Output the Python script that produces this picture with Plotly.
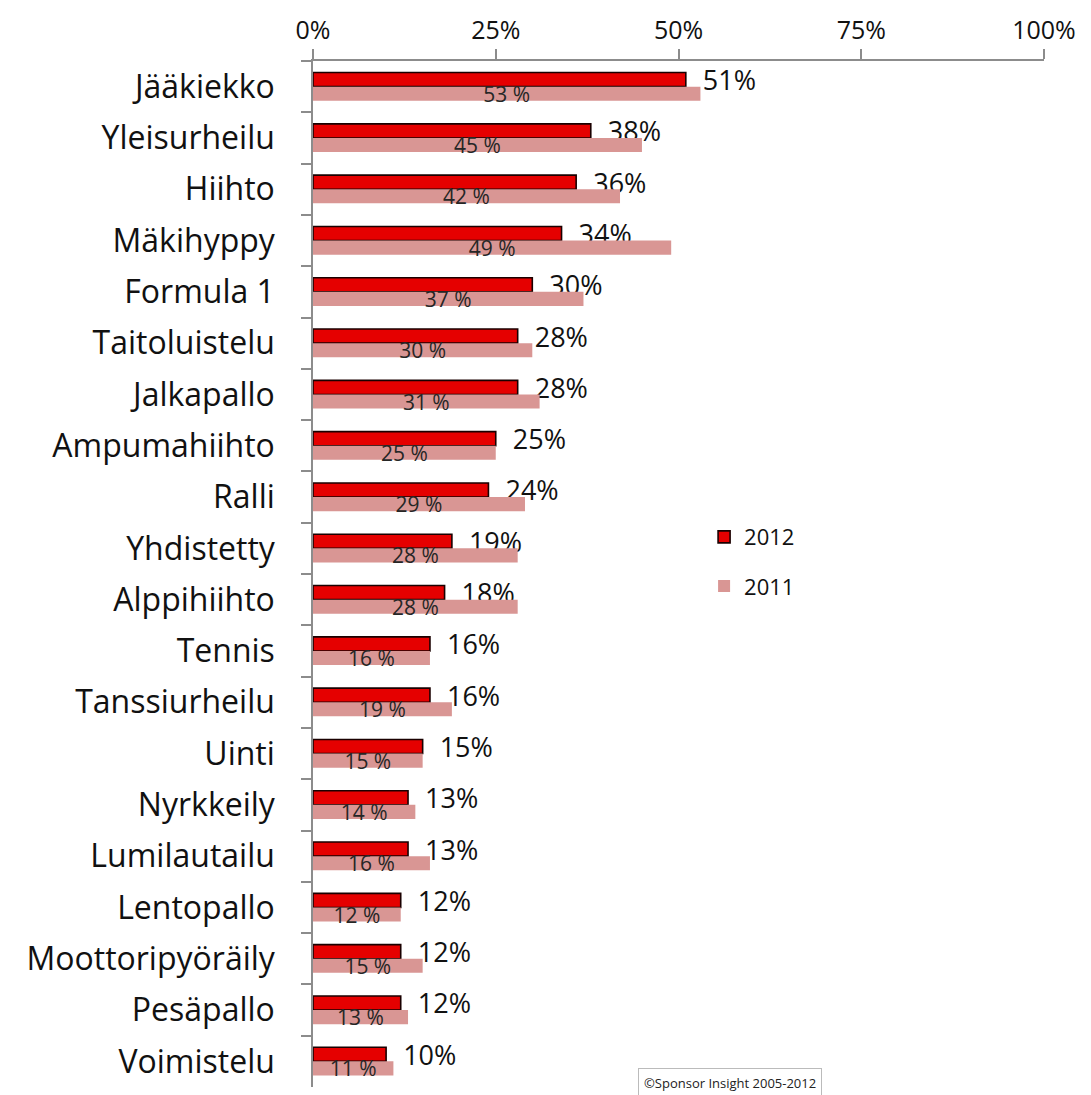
import plotly.graph_objects as go

categories = ["Jääkiekko", "Yleisurheilu", "Hiihto", "Mäkihyppy", "Formula 1", "Taitoluistelu",
              "Jalkapallo", "Ampumahiihto", "Ralli", "Yhdistetty", "Alppihiihto", "Tennis",
              "Tanssiurheilu", "Uinti", "Nyrkkeily", "Lumilautailu", "Lentopallo",
              "Moottoripyöräily", "Pesäpallo", "Voimistelu"]
values_2012 = [51, 38, 36, 34, 30, 28, 28, 25, 24, 19, 18, 16, 16, 15, 13, 13, 12, 12, 12, 10]
values_2011 = [53, 45, 42, 49, 37, 30, 31, 25, 29, 28, 28, 16, 19, 15, 14, 16, 12, 15, 13, 11]
x_ticks = [0, 25, 50, 75, 100]
x_tick_labels = ["0%", "25%", "50%", "75%", "100%"]

FONT = "Open Sans"

fig = go.Figure()
fig.add_trace(go.Bar(
    y=categories, x=values_2012, orientation="h", name="2012",
    marker=dict(color="#E50000", line=dict(color="#1A0000", width=1.6)),
    text=[f"  {v}%" for v in values_2012], textposition="outside",
    textfont=dict(family=FONT, size=27, color="#111111"),
    constraintext="none", cliponaxis=False, textangle=0,
    legend="legend",
))
fig.add_trace(go.Bar(
    y=categories, x=values_2011, orientation="h", name="2011",
    marker=dict(color="#D99694", line=dict(width=0)),
    text=[f"{v} %" for v in values_2011], textposition="inside",
    insidetextanchor="middle",
    textfont=dict(family=FONT, size=21, color="#262626"),
    constraintext="none", textangle=0,
    legend="legend2",
))

fig.update_layout(
    width=1091, height=1095,
    margin=dict(l=313, r=47, t=61, b=8),
    paper_bgcolor="white", plot_bgcolor="white",
    barmode="group", bargap=0.45, bargroupgap=0,
    font=dict(family=FONT, color="#111111"),
    showlegend=True,
    legend=dict(x=0.535, y=0.536, xanchor="left", yanchor="middle",
                font=dict(family=FONT, size=22, color="#111111"),
                bgcolor="rgba(0,0,0,0)"),
    legend2=dict(x=0.535, y=0.488, xanchor="left", yanchor="middle",
                 font=dict(family=FONT, size=22, color="#111111"),
                 bgcolor="rgba(0,0,0,0)"),
    xaxis=dict(side="top", range=[0, 100], tickvals=x_ticks, ticktext=x_tick_labels,
               showgrid=False, zeroline=False, showline=True, linecolor="#8C8C8C", linewidth=1.5,
               ticks="outside", ticklen=10, tickcolor="#8C8C8C", tickwidth=1.5,
               tickfont=dict(family=FONT, size=25, color="#111111")),
    yaxis=dict(autorange="reversed", showgrid=False, zeroline=False, showline=True,
               linecolor="#8C8C8C", linewidth=1.5, ticks="outside", ticklen=10,
               tickcolor="#8C8C8C", tickwidth=1.5, tickson="boundaries",
               ticklabelstandoff=30,
               tickfont=dict(family=FONT, size=32, color="#111111")),
)

fig.add_annotation(
    text="©Sponsor Insight 2005-2012", xref="paper", yref="paper",
    x=0.57, y=0.004, xanchor="center", yanchor="middle", showarrow=False,
    font=dict(family=FONT, size=13, color="#222222"),
    bordercolor="#BBBBBB", borderwidth=1, borderpad=5, bgcolor="white",
)

fig.write_html("out.html")
